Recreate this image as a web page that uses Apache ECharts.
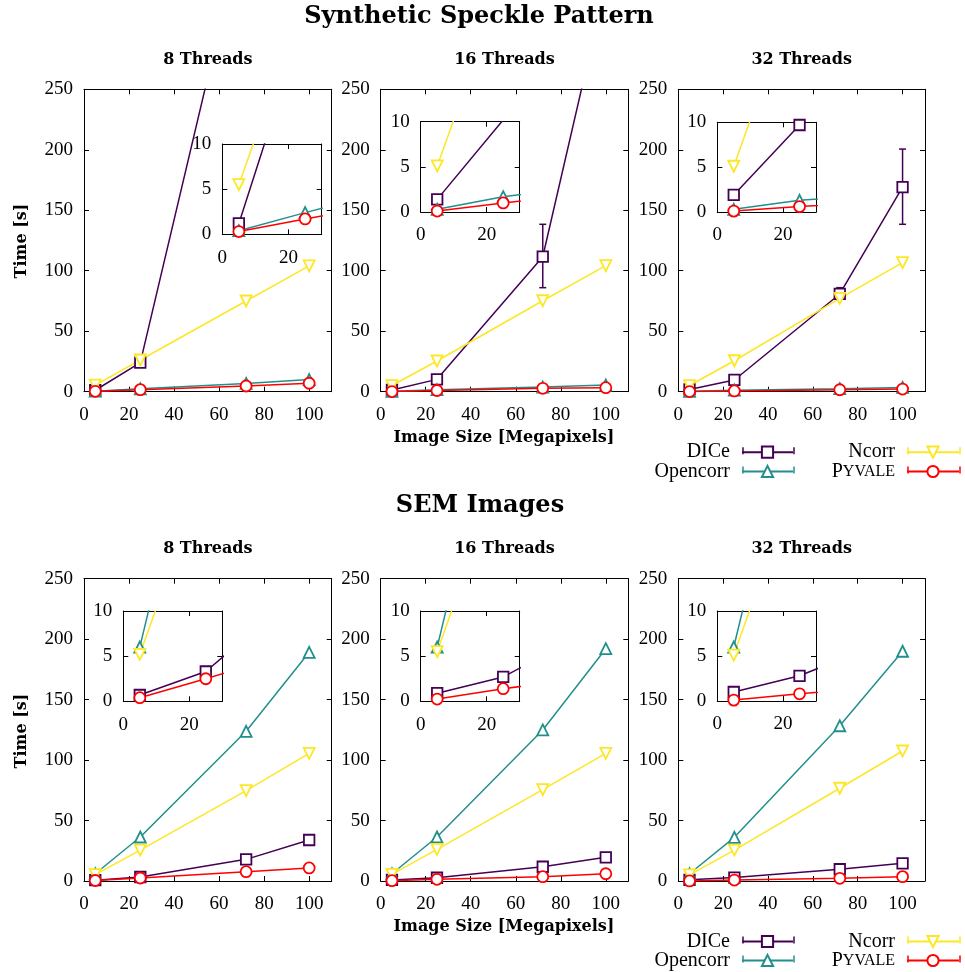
<!DOCTYPE html>
<html>
<head>
<meta charset="utf-8">
<script src="https://cdn.jsdelivr.net/npm/echarts@6/dist/echarts.min.js"></script>
<style>
  html, body { margin: 0; padding: 0; background: #fff; }
  #chart { width: 965px; height: 972px; }
</style>
</head>
<body>
<div id="chart"></div>
<script>
// image size [Megapixels]
const imageSize = [5, 25, 72, 100];

// synthetic speckle pattern, time [s]
const speckleDice8 = [1.2, 24, 394, 560];
const speckleOpencorr8 = [0.4, 2.4, 6.8, 10];
const speckleNcorr8 = [5.5, 26.2, 75, 104];
const specklePyvale8 = [0.3, 1.7, 4.7, 7];

const speckleDice16 = [1.4, 10.2, 111.6, 337];
const speckleOpencorr16 = [0.3, 1.7, 3.8, 5.5];
const speckleNcorr16 = [5.1, 25.4, 75.2, 104.2];
const specklePyvale16 = [0.1, 1.0, 2.8, 3.3];

const speckleDice32 = [1.9, 9.7, 80.8, 169.2];
const speckleOpencorr32 = [0.3, 1.3, 2.5, 3.5];
const speckleNcorr32 = [5.1, 25.6, 77.2, 106.7];
const specklePyvale32 = [0.1, 0.6, 1.6, 2.2];

// DICe error bars: [x, low, high]
const speckleDice16Err = [[72, 86, 138.4]];
const speckleDice32Err = [[72, 77, 86], [100, 138.4, 200.6]];

// SEM images, time [s]
const semDice8 = [0.7, 3.3, 17.9, 33.9];
const semOpencorr8 = [6.0, 36.4, 123.8, 189.1];
const semNcorr8 = [5.2, 25.6, 74.7, 105.6];
const semPyvale8 = [0.4, 2.5, 7.7, 10.8];

const semDice16 = [0.9, 2.7, 11.8, 19.6];
const semOpencorr16 = [6.0, 36.4, 124.9, 192.1];
const semNcorr16 = [5.5, 26.2, 75.5, 105.6];
const semPyvale16 = [0.25, 1.4, 3.6, 6.0];

const semDice32 = [1.0, 2.8, 9.7, 14.6];
const semOpencorr32 = [6.0, 36.1, 128.4, 190];
const semNcorr32 = [5.1, 25.6, 76.7, 107.5];
const semPyvale32 = [0.1, 0.8, 2.2, 3.6];

const mainTicksY = [0, 250, 50];
const mainTicksX = [0, 110, 20];
const insetTicksY = [0, 10, 5];
const insetTicksX = [0, 30, 20];

const COLORS = { DICe: '#440154', Opencorr: '#21908d', Ncorr: '#fde725', Pyvale: '#ff0000' };
const SYMBOLS = { DICe: ['rect', 0, 10.5], Opencorr: ['triangle', 0, 11], Ncorr: ['triangle', 180, 11], Pyvale: ['circle', 0, 11] };
const SERIF = '"Liberation Serif", "Times New Roman", serif';
const BOLD = '"DejaVu Serif", serif';

const panels = [
  { grid: [84, 89.3, 247.7, 302.4], inset: [222.3, 144, 99.4, 90.3],
    data: { DICe: speckleDice8, Opencorr: speckleOpencorr8, Ncorr: speckleNcorr8, Pyvale: specklePyvale8 } },
  { grid: [380.7, 89.3, 247.6, 302.4], inset: [420.7, 121.7, 99, 90.3], err: speckleDice16Err,
    data: { DICe: speckleDice16, Opencorr: speckleOpencorr16, Ncorr: speckleNcorr16, Pyvale: specklePyvale16 } },
  { grid: [678.3, 89.3, 246.7, 302.4], inset: [717.3, 122.3, 98.7, 89.7], err: speckleDice32Err,
    data: { DICe: speckleDice32, Opencorr: speckleOpencorr32, Ncorr: speckleNcorr32, Pyvale: specklePyvale32 } },
  { grid: [84, 578.7, 247.7, 302.3], inset: [123.3, 611, 99, 90.3],
    data: { DICe: semDice8, Opencorr: semOpencorr8, Ncorr: semNcorr8, Pyvale: semPyvale8 } },
  { grid: [380.7, 578.7, 247.6, 302.3], inset: [420.7, 611, 99, 90.3],
    data: { DICe: semDice16, Opencorr: semOpencorr16, Ncorr: semNcorr16, Pyvale: semPyvale16 } },
  { grid: [678.3, 578.7, 246.7, 302.3], inset: [717.3, 611, 98.7, 90],
    data: { DICe: semDice32, Opencorr: semOpencorr32, Ncorr: semNcorr32, Pyvale: semPyvale32 } }
];

const grid = [], xAxis = [], yAxis = [], series = [];

function addGrid(rect, inset) {
  const gi = grid.length;
  const z = inset ? 4 : 0;
  grid.push({
    left: rect[0], top: rect[1], width: rect[2], height: rect[3],
    show: inset, backgroundColor: '#fff', borderWidth: 0, z: inset ? 3 : 0,
    outerBoundsMode: 'none'
  });
  const tx = inset ? insetTicksX : mainTicksX;
  const ty = inset ? insetTicksY : mainTicksY;
  const common = {
    gridIndex: gi, type: 'value', z: z,
    splitLine: { show: false },
    axisLine: { show: true, onZero: false, lineStyle: { color: '#000', width: 1 } },
    axisTick: { inside: true, length: 5, lineStyle: { color: '#000', width: 1 } }
  };
  const label = { fontFamily: SERIF, fontSize: 19, color: '#000' };
  xAxis.push(Object.assign({}, common, { position: 'bottom', min: tx[0], max: tx[1], interval: tx[2],
    axisLabel: Object.assign({ margin: 14, showMaxLabel: false }, label) }));
  xAxis.push(Object.assign({}, common, { position: 'top', min: tx[0], max: tx[1], interval: tx[2],
    axisLabel: { show: false } }));
  yAxis.push(Object.assign({}, common, { position: 'left', min: ty[0], max: ty[1], interval: ty[2],
    axisLabel: Object.assign({ margin: 11 }, label) }));
  yAxis.push(Object.assign({}, common, { position: 'right', min: ty[0], max: ty[1], interval: ty[2],
    axisLabel: { show: false } }));
  return gi;
}

function addLines(gi, data, inset) {
  ['DICe', 'Opencorr', 'Ncorr', 'Pyvale'].forEach(function (name) {
    const s = SYMBOLS[name];
    series.push({
      name: name, type: 'line', xAxisIndex: 2 * gi, yAxisIndex: 2 * gi,
      data: imageSize.map(function (x, i) { return [x, data[name][i]]; }),
      symbol: s[0], symbolRotate: s[1], symbolSize: s[2], showSymbol: true,
      clip: true, z: inset ? 5 : 2,
      lineStyle: { color: COLORS[name], width: 1.5 },
      itemStyle: { color: '#fff', borderColor: COLORS[name], borderWidth: 1.8 },
      emphasis: { disabled: true }
    });
  });
}

function addErrors(gi, err) {
  series.push({
    type: 'custom', xAxisIndex: 2 * gi, yAxisIndex: 2 * gi, data: err, z: 1,
    encode: { x: 0, y: [1, 2] },
    renderItem: function (params, api) {
      const x = api.value(0);
      const lo = api.coord([x, api.value(1)]);
      const hi = api.coord([x, api.value(2)]);
      const w = 3.5;
      const st = { stroke: COLORS.DICe, lineWidth: 1.5 };
      return { type: 'group', children: [
        { type: 'line', shape: { x1: lo[0], y1: lo[1], x2: hi[0], y2: hi[1] }, style: st },
        { type: 'line', shape: { x1: lo[0] - w, y1: lo[1], x2: lo[0] + w, y2: lo[1] }, style: st },
        { type: 'line', shape: { x1: hi[0] - w, y1: hi[1], x2: hi[0] + w, y2: hi[1] }, style: st }
      ] };
    }
  });
}

panels.forEach(function (p) {
  const gi = addGrid(p.grid, false);
  addLines(gi, p.data, false);
  if (p.err) addErrors(gi, p.err);
  const ii = addGrid(p.inset, true);
  addLines(ii, p.data, true);
});

function text(str, x, y, size, rotation) {
  return {
    type: 'text', x: x, y: y, rotation: rotation || 0,
    style: {
      text: str, fontFamily: BOLD, fontWeight: 'bold', fontSize: size, fill: '#000',
      align: 'center', verticalAlign: 'middle', textAlign: 'center', textVerticalAlign: 'middle'
    }
  };
}

const graphic = [
  text('Synthetic Speckle Pattern', 479, 17, 24),
  text('SEM Images', 480, 506, 24),
  text('Image Size [Megapixels]', 504, 438, 16),
  text('Image Size [Megapixels]', 504, 927, 16),
  text('Time [s]', 21.5, 241, 16, Math.PI / 2),
  text('Time [s]', 21.5, 731, 16, Math.PI / 2)
];
['8 Threads', '16 Threads', '32 Threads'].forEach(function (t, i) {
  const cx = panels[i].grid[0] + panels[i].grid[2] / 2;
  graphic.push(text(t, cx, 60, 16));
  graphic.push(text(t, cx, 549, 16));
});

// key: one legend per entry, with error-bar caps at both ends of the sample
const keyRows = [[450.7, 470], [940, 959]];
const keyCols = [[743, 794, ['DICe', 'Opencorr']], [908, 960, ['Ncorr', 'Pyvale']]];
const legends = [];
keyRows.forEach(function (rows) {
  keyCols.forEach(function (col) {
    rows.forEach(function (y, r) {
      const name = col[2][r];
      legends.push({
        data: [name], orient: 'horizontal', align: 'right', right: 965 - col[1], top: y - 8.5,
        padding: 0, itemWidth: col[1] - col[0], itemHeight: 14, selectedMode: false,
        formatter: function (n) { return n === 'Pyvale' ? '{a|P}{b|YVALE}' : n; },
        textStyle: {
          fontFamily: SERIF, fontSize: 20, color: '#000', lineHeight: 14, padding: [0, 7, 0, 0],
          rich: {
            a: { fontFamily: SERIF, fontSize: 20, color: '#000', lineHeight: 14 },
            b: { fontFamily: SERIF, fontSize: 16, color: '#000', lineHeight: 14 }
          }
        }
      });
      [col[0], col[1]].forEach(function (x) {
        graphic.push({ type: 'line', shape: { x1: x, y1: y - 3.5, x2: x, y2: y + 3.5 },
          style: { stroke: COLORS[name], lineWidth: 1.5 } });
      });
    });
  });
});

const chart = echarts.init(document.getElementById('chart'), null, { renderer: 'canvas' });
chart.setOption({
  animation: false,
  backgroundColor: '#fff',
  grid: grid,
  xAxis: xAxis,
  yAxis: yAxis,
  series: series,
  graphic: graphic,
  legend: legends
});
</script>
</body>
</html>
